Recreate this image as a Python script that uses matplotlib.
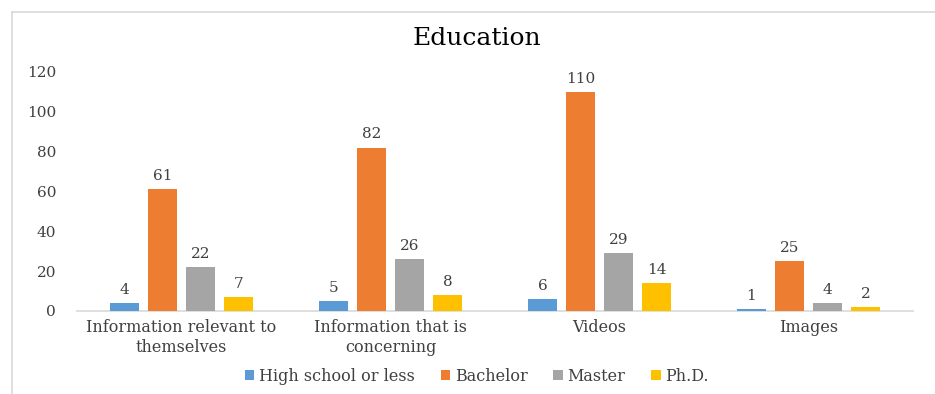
import numpy as np
import matplotlib.pyplot as plt
from matplotlib.lines import Line2D

plt.rcParams['font.family'] = ['DejaVu Serif', 'Liberation Serif']

# 数据
categories = ['Information relevant to\nthemselves', 'Information that is\nconcerning',
              'Videos', 'Images']
series_names = ['High school or less', 'Bachelor', 'Master', 'Ph.D.']
high_school = [4, 5, 6, 1]
bachelor = [61, 82, 110, 25]
master = [22, 26, 29, 4]
phd = [7, 8, 14, 2]
colors = ['#5B9BD5', '#ED7D31', '#A5A5A5', '#FFC000']
yticks = [0, 20, 40, 60, 80, 100, 120]

text_color = '#404040'

fig = plt.figure(figsize=(9.35, 3.94), dpi=100)
ax = fig.add_axes([0.0824, 0.2107, 0.894, 0.6066])

x = np.arange(len(categories))
step = 0.182
width = 0.139
all_series = [high_school, bachelor, master, phd]

for i, (vals, name, c) in enumerate(zip(all_series, series_names, colors)):
    pos = x + (i - 1.5) * step
    bars = ax.bar(pos, vals, width, color=c, label=name, zorder=3)
    for b, v in zip(bars, vals):
        ax.annotate(str(v), (b.get_x() + b.get_width() / 2, v),
                    xytext=(0, 4.5), textcoords='offset points',
                    ha='center', va='bottom', fontsize=11, color=text_color)

ax.set_xlim(-0.5, 3.5)
ax.set_ylim(0, 120)
ax.set_yticks(yticks)
ax.set_xticks(x)
ax.set_xticklabels(categories, fontsize=11.5, color=text_color, linespacing=1.2)
ax.tick_params(axis='y', labelsize=11, colors=text_color, length=0, pad=15)
ax.tick_params(axis='x', length=0, pad=6)

for s in ['top', 'right', 'left']:
    ax.spines[s].set_visible(False)
ax.spines['bottom'].set_color('#D9D9D9')
ax.spines['bottom'].set_linewidth(1.2)

fig.text(0.51, 0.902, 'Education', ha='center', va='center', fontsize=18, color='black')

leg = fig.legend(loc='center', bbox_to_anchor=(0.51, 0.045), ncol=4, frameon=False,
                 fontsize=11.5, handlelength=0.6, handleheight=0.6, handletextpad=0.3,
                 columnspacing=1.6)
for t in leg.get_texts():
    t.set_color(text_color)

# 图表外框（上边和左边）
fig.add_artist(Line2D([12 / 935, 1.0], [1 - 12 / 394, 1 - 12 / 394],
                      transform=fig.transFigure, color='#D9D9D9', lw=1.2))
fig.add_artist(Line2D([12 / 935, 12 / 935], [0, 1 - 12 / 394],
                      transform=fig.transFigure, color='#D9D9D9', lw=1.2))

plt.savefig('out.png', dpi=100)
